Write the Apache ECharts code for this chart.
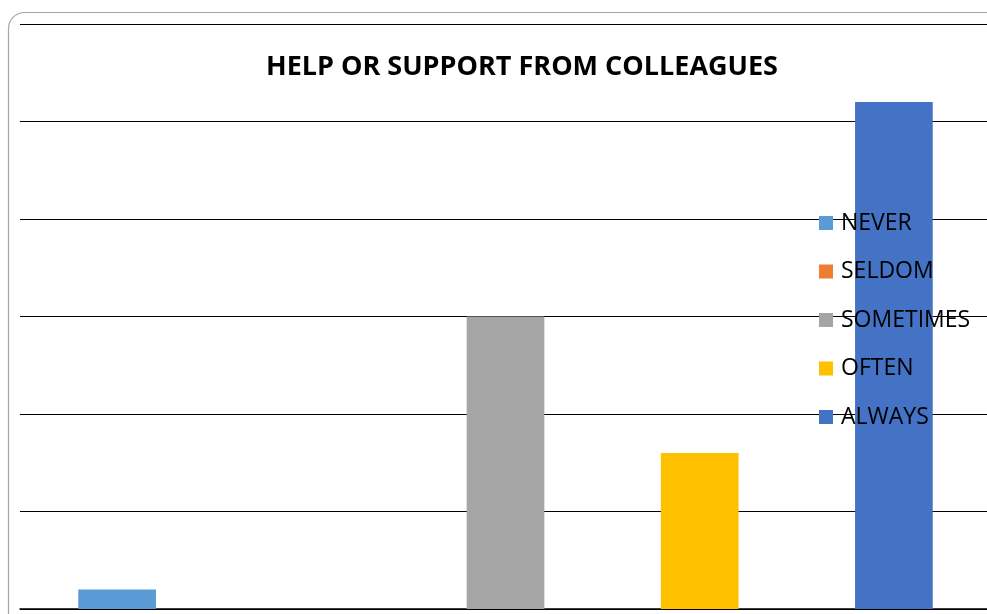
<!DOCTYPE html>
<html>
<head>
<meta charset="utf-8">
<script src="https://cdn.jsdelivr.net/npm/echarts@6/dist/echarts.min.js"></script>
<style>
  html, body { margin: 0; padding: 0; background: #fff; overflow: hidden; }
  /* plot area runs a few pixels past the right edge of the page */
  #chart { width: 995px; height: 614px; }
</style>
</head>
<body>
<div id="chart"></div>
<script>
// Responses: how often help or support is received from colleagues
const categories = ['NEVER', 'SELDOM', 'SOMETIMES', 'OFTEN', 'ALWAYS'];
const counts = [1, 0, 15, 8, 26];
const colors = ['#5B9BD5', '#ED7D31', '#A5A5A5', '#FFC000', '#4472C4'];
const titleText = 'HELP OR SUPPORT FROM COLLEAGUES';

const chart = echarts.init(document.getElementById('chart'), null, { renderer: 'canvas' });

// One series per answer so each gets its own legend entry; stacking keeps bars centred
const series = categories.map((name, i) => ({
  name: name,
  type: 'bar',
  stack: 'answers',
  barWidth: '40%',
  itemStyle: { color: colors[i] },
  data: categories.map((_, j) => (j === i ? counts[i] : '-'))
}));

chart.setOption({
  animation: false,
  color: colors,
  grid: { left: 20, right: 4, top: 24, bottom: 5, containLabel: false },
  xAxis: {
    type: 'category',
    data: categories,
    axisLine: { show: true, lineStyle: { color: '#000', width: 1.5 } },
    axisTick: { show: false },
    axisLabel: { show: false }
  },
  yAxis: {
    type: 'value',
    min: 0,
    max: 30,
    interval: 5,
    axisLine: { show: false },
    axisTick: { show: false },
    axisLabel: { show: false },
    splitLine: { show: true, lineStyle: { color: '#000', width: 1.2 } }
  },
  legend: {
    orient: 'vertical',
    left: 819,
    top: 211.5,
    padding: 0,
    itemWidth: 14,
    itemHeight: 14,
    itemGap: 25.5,
    icon: 'rect',
    textStyle: {
      fontFamily: 'Open Sans',
      fontSize: 23,
      color: '#000',
      lineHeight: 23,
      padding: [0, 0, 0, 3]
    },
    data: categories
  },
  graphic: [
    {
      type: 'rect',
      silent: true,
      z: -10,
      shape: { x: 8.5, y: 12.5, width: 1100, height: 700, r: 16 },
      style: { fill: 'none', stroke: '#a6a6a6', lineWidth: 1.2 }
    },
    {
      type: 'text',
      x: 522,
      y: 67,
      style: {
        text: titleText,
        fontFamily: 'Open Sans',
        fontWeight: 'bold',
        fontSize: 27,
        fill: '#000',
        textAlign: 'center',
        textVerticalAlign: 'middle'
      }
    }
  ],
  series: series
});
</script>
</body>
</html>
